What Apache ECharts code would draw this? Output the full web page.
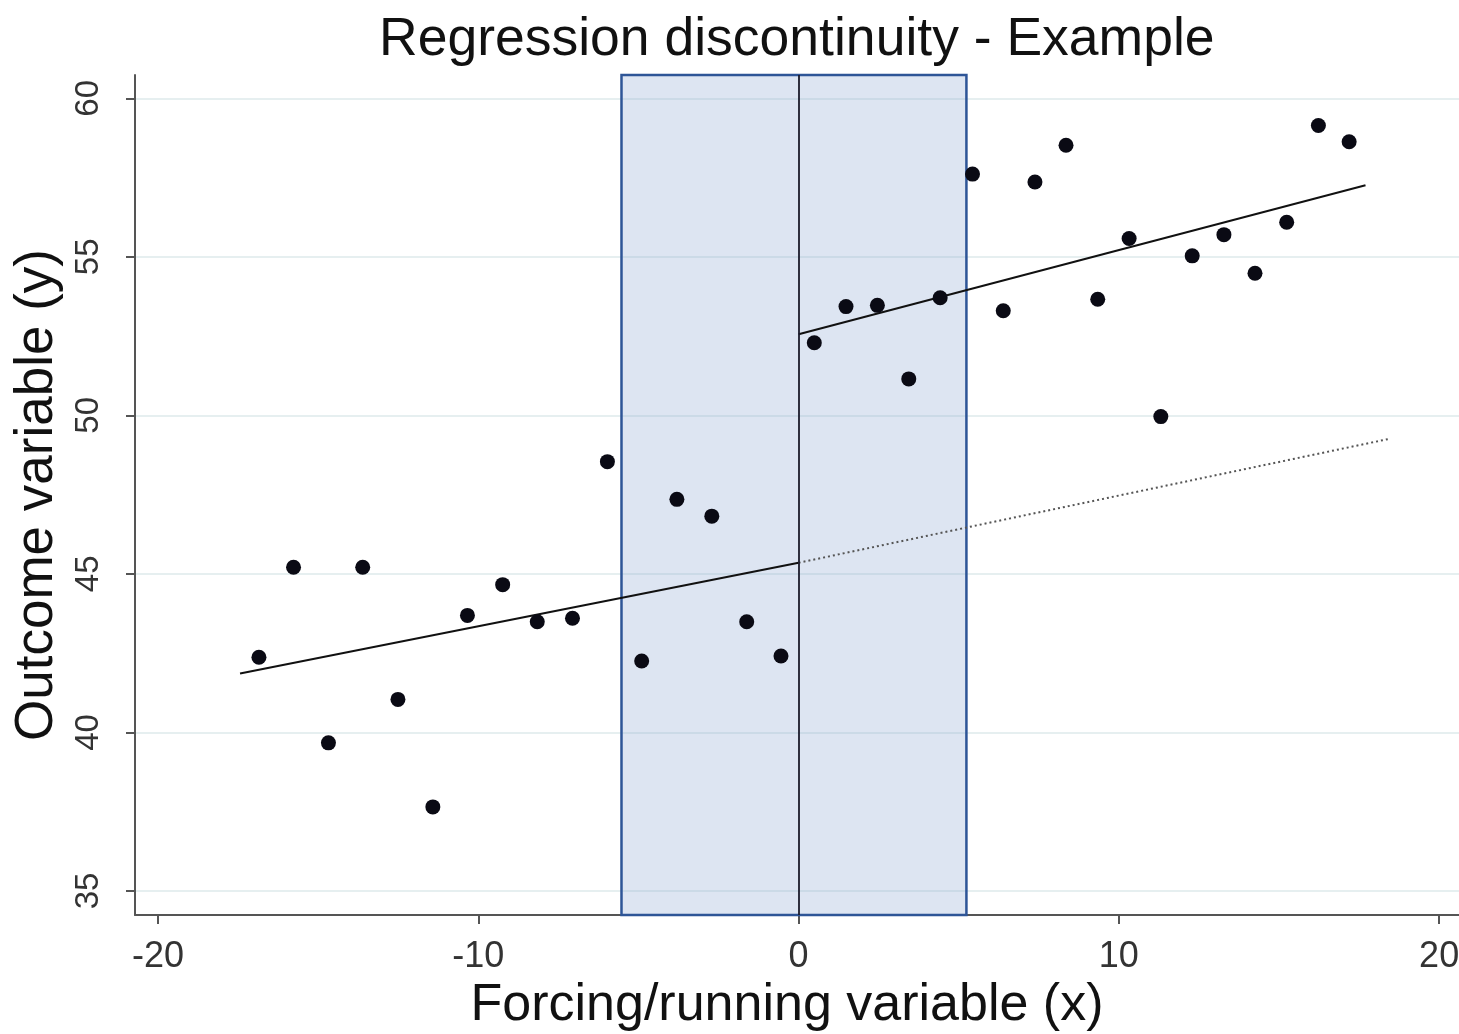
<!DOCTYPE html>
<html>
<head>
<meta charset="utf-8">
<title>Regression discontinuity - Example</title>
<script src="https://cdn.jsdelivr.net/npm/echarts@6/dist/echarts.min.js"></script>
<style>
  html, body { margin: 0; padding: 0; background: #fff; }
  #main { width: 1459px; height: 1034px; }
</style>
</head>
<body>
<div id="main"></div>
<script>
// scatter points (forcing variable x, outcome y)
const pointX = [-16.85, -15.77, -14.68, -13.61, -12.51, -11.42, -10.34, -9.24, -8.16, -7.06,
  -5.97, -4.90, -3.80, -2.71, -1.62, -0.55,
  0.49, 1.48, 2.46, 3.44, 4.42, 5.43, 6.39, 7.38, 8.35, 9.34,
  10.32, 11.31, 12.29, 13.28, 14.25, 15.24, 16.23, 17.19]
const pointY = [42.37, 45.21, 39.67, 45.21, 41.04, 37.65, 43.69, 44.66, 43.49, 43.60,
  48.54, 42.25, 47.35, 46.82, 43.49, 42.41,
  52.29, 53.43, 53.47, 51.15, 53.71, 57.61, 53.30, 57.36, 58.52, 53.66,
  55.58, 49.96, 55.03, 55.70, 54.48, 56.09, 59.14, 58.63]

// fitted lines: [start, end]
const fitLeftX = [-17.44, 0]
const fitLeftY = [41.86, 45.35]
const fitRightX = [0, 17.7]
const fitRightY = [52.56, 57.26]
const fitExtX = [0, 18.4]
const fitExtY = [45.35, 49.25]

// bandwidth window around the cutoff
const cutoff = 0
const bandwidth = [-5.53, 5.24]

const xTicks = [-20, -10, 0, 10, 20]
const yTicks = [35, 40, 45, 50, 55, 60]

const font = 'Liberation Sans, Arial, Helvetica, sans-serif'
const pairs = (xs, ys) => xs.map((x, i) => [x, ys[i]])

const myChart = echarts.init(document.getElementById('main'))

const option = {
  backgroundColor: '#fff',
  animation: false,
  title: {
    text: 'Regression discontinuity - Example',
    left: 374,
    top: 8,
    textStyle: {
      fontFamily: font,
      fontSize: 53.5,
      fontWeight: 'normal',
      color: '#111'
    }
  },
  grid: {
    left: 135,
    right: 0,
    top: 75,
    bottom: 119,
    containLabel: false,
    outerBoundsMode: 'none'
  },
  xAxis: {
    type: 'value',
    min: -20.72,
    max: 20.62,
    name: 'Forcing/running variable (x)',
    nameLocation: 'middle',
    nameGap: 63,
    nameTextStyle: { fontFamily: font, fontSize: 52, color: '#111', padding: [0, 20, 0, 0] },
    axisLine: { show: true, onZero: false, lineStyle: { color: '#555', width: 2 } },
    axisTick: { show: true, length: 9, customValues: xTicks, lineStyle: { color: '#555', width: 2 } },
    axisLabel: {
      customValues: xTicks,
      margin: 24,
      fontFamily: font,
      fontSize: 36,
      color: '#333'
    },
    splitLine: { show: false }
  },
  yAxis: {
    type: 'value',
    min: 34.24,
    max: 60.735,
    name: 'Outcome variable (y)',
    nameLocation: 'middle',
    nameGap: 70,
    nameRotate: 90,
    nameTextStyle: { fontFamily: font, fontSize: 53, color: '#111' },
    axisLine: { show: true, onZero: false, lineStyle: { color: '#555', width: 2 } },
    axisTick: { show: true, length: 9, customValues: yTicks, lineStyle: { color: '#555', width: 2 } },
    axisLabel: {
      customValues: yTicks,
      rotate: 90,
      margin: 30,
      fontFamily: font,
      fontSize: 33,
      color: '#333'
    },
    splitLine: { show: true, lineStyle: { color: '#e6eff0', width: 2 } }
  },
  series: [
    {
      name: 'window',
      type: 'line',
      data: [],
      silent: true,
      markArea: {
        silent: true,
        itemStyle: {
          color: 'rgba(142, 168, 212, 0.3)',
          borderColor: '#2e5597',
          borderWidth: 2.5
        },
        data: [[{ xAxis: bandwidth[0] }, { xAxis: bandwidth[1] }]]
      },
      markLine: {
        silent: true,
        symbol: 'none',
        label: { show: false },
        lineStyle: { color: '#1b1b2b', width: 1.8, type: 'solid' },
        data: [{ xAxis: cutoff }]
      }
    },
    {
      name: 'fit left',
      type: 'line',
      data: pairs(fitLeftX, fitLeftY),
      symbol: 'none',
      lineStyle: { color: '#111', width: 2 },
      z: 3
    },
    {
      name: 'fit right',
      type: 'line',
      data: pairs(fitRightX, fitRightY),
      symbol: 'none',
      lineStyle: { color: '#111', width: 2 },
      z: 3
    },
    {
      name: 'counterfactual',
      type: 'line',
      data: pairs(fitExtX, fitExtY),
      symbol: 'none',
      lineStyle: { color: '#555', width: 2, type: [2, 3] },
      z: 3
    },
    {
      name: 'observations',
      type: 'scatter',
      data: pairs(pointX, pointY),
      symbolSize: 15,
      itemStyle: { color: '#0a0a14', opacity: 1 },
      z: 4
    }
  ]
}

myChart.setOption(option)
</script>
</body>
</html>
